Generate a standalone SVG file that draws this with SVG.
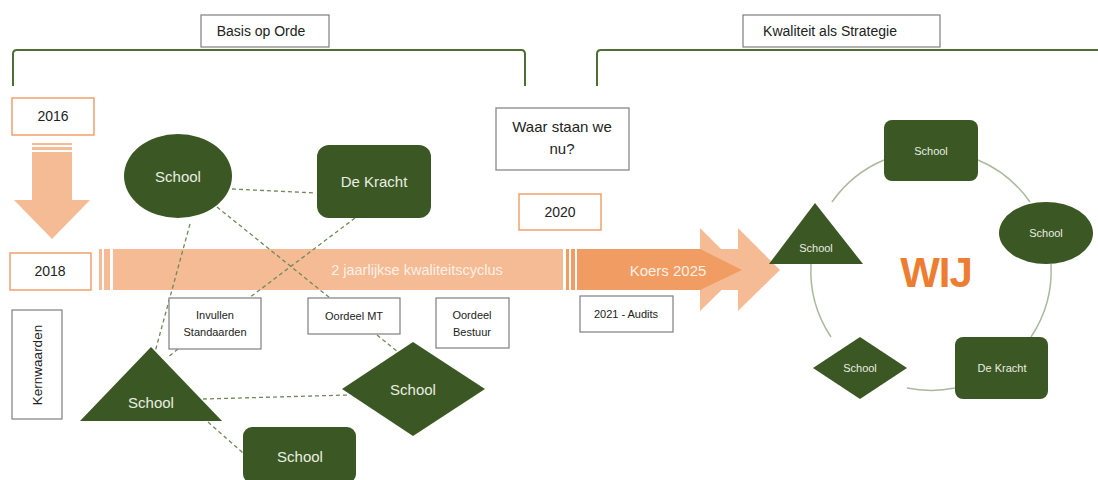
<svg xmlns="http://www.w3.org/2000/svg" width="1098" height="480" viewBox="0 0 1098 480">
<style>
text{font-family:"Liberation Sans",Arial,sans-serif;}
.box{fill:#fff;stroke:#7f7f7f;stroke-width:1.2;}
.obox{fill:#fff;stroke:#f2a775;stroke-width:1.6;}
.g{fill:#3b5724;}
.lbl{fill:#e9eee2;text-anchor:middle;}
.dk{fill:#222;text-anchor:middle;}
.dash{stroke:#6f8a5a;stroke-width:1.3;stroke-dasharray:4 3;fill:none;}
.br{stroke:#4f6d35;stroke-width:2;fill:none;}
.lo{fill:#f4bb95;}
.do{fill:#f09c62;}
.arc{fill:none;stroke:#aab99c;stroke-width:1.5;}
</style>
<rect width="1098" height="480" fill="#fff"/>

<!-- brackets -->
<g id="brackets">
<path class="br" d="M13 86 V54 Q13 50 17 50 H521 Q525 50 525 54 V86"/>
<path class="br" d="M597 86 V54 Q597 50 601 50 H1098"/>
</g>
<g id="basis"><rect class="box" x="201" y="15" width="128" height="32"/><text class="dk" x="261" y="36" font-size="14">Basis op Orde</text></g>
<g id="kwaliteit"><rect class="box" x="743" y="15" width="197" height="32"/><text class="dk" x="830" y="36" font-size="14">Kwaliteit als Strategie</text></g>

<!-- timeline -->
<g id="y2016"><rect class="obox" x="12" y="98" width="82" height="37"/><text class="dk" x="53" y="121" font-size="14">2016</text></g>
<g id="downarrow">
<rect class="lo" x="32" y="143" width="40" height="2"/>
<rect class="lo" x="32" y="147" width="40" height="3"/>
<polygon class="lo" points="32,152 72,152 72,200 90,200 52,239 14,200 32,200"/>
</g>
<g id="y2018"><rect class="obox" x="10" y="253" width="81" height="37"/><text class="dk" x="50" y="276" font-size="14">2018</text></g>

<g id="cycle-arrow">
<rect class="lo" x="99" y="249" width="3" height="41"/>
<rect class="lo" x="104" y="249" width="6" height="41"/>
<rect class="lo" x="113" y="249" width="450" height="41"/>
<rect class="lo" x="563" y="249" width="175" height="41"/>
<polygon class="lo" points="738,228 780,270 738,311"/>
<polygon class="lo" points="700,228 742,270 700,311"/>
<text x="417" y="275" font-size="14.5" fill="#fdf0e6" text-anchor="middle">2 jaarlijkse kwaliteitscyclus</text>
</g>
<g id="koers-arrow">
<rect x="563" y="249" width="14" height="41" fill="#fff"/>
<rect class="do" x="566" y="249" width="3" height="41"/>
<rect class="do" x="571" y="249" width="4" height="41"/>
<polygon class="do" points="577,249 700,249 742,270 700,290 577,290"/>
<text x="668" y="276" font-size="15" fill="#fdf0e6" text-anchor="middle">Koers 2025</text>
</g>

<g id="waar"><rect class="box" x="496" y="108" width="133" height="62"/><text class="dk" x="562" y="132" font-size="15">Waar staan we</text><text class="dk" x="562" y="154" font-size="15">nu?</text></g>
<g id="y2020"><rect class="obox" x="519" y="194" width="82" height="36"/><text class="dk" x="560" y="217" font-size="14">2020</text></g>
<g id="audits"><rect class="box" x="580" y="296" width="93" height="36"/><text class="dk" x="626" y="318" font-size="11">2021 - Audits</text></g>

<g id="kernwaarden"><rect class="box" x="12" y="310" width="50" height="109"/><text class="dk" transform="translate(42 365) rotate(-90)" font-size="13.5">Kernwaarden</text></g>

<!-- connectors -->
<g id="connectors">
<line class="dash" x1="232" y1="189" x2="316" y2="193"/>
<line class="dash" x1="190" y1="224" x2="155" y2="352"/>
<line class="dash" x1="217" y1="207" x2="330" y2="298"/>
<line class="dash" x1="355" y1="218" x2="249" y2="298"/>
<line class="dash" x1="178" y1="349" x2="167" y2="358"/>
<line class="dash" x1="203" y1="399" x2="348" y2="395"/>
<line class="dash" x1="208" y1="422" x2="243" y2="453"/>
<line class="dash" x1="377" y1="335" x2="398" y2="352"/>
<path class="arc" d="M832 202 A120 120 0 0 1 884 160"/>
<path class="arc" d="M978 160 A120 120 0 0 1 1030 202"/>
<path class="arc" d="M1051 264 A120 120 0 0 1 1031 337"/>
<path class="arc" d="M955 388 A120 120 0 0 1 907 388"/>
<path class="arc" d="M831 337 A120 120 0 0 1 811 264"/>
</g>

<!-- left nodes -->
<g id="school-ellipse"><ellipse class="g" cx="178" cy="176" rx="54" ry="42"/><text class="lbl" x="178" y="182" font-size="15">School</text></g>
<g id="dekracht-left"><rect class="g" x="317" y="145" width="114" height="73" rx="12"/><text class="lbl" x="374" y="187" font-size="15">De Kracht</text></g>
<g id="invullen"><rect class="box" x="169" y="298" width="92" height="51"/><text class="dk" x="215" y="319" font-size="11">Invullen</text><text class="dk" x="215" y="336" font-size="11">Standaarden</text></g>
<g id="oordeel-mt"><rect class="box" x="308" y="298" width="92" height="36"/><text class="dk" x="354" y="320" font-size="11">Oordeel MT</text></g>
<g id="oordeel-bestuur"><rect class="box" x="436" y="298" width="73" height="50"/><text class="dk" x="472" y="319" font-size="11">Oordeel</text><text class="dk" x="472" y="336" font-size="11">Bestuur</text></g>
<g id="school-triangle"><polygon class="g" points="151,347 222,421 80,421"/><text class="lbl" x="151" y="408" font-size="15">School</text></g>
<g id="school-diamond"><polygon class="g" points="342,389 413,342 485,389 413,436"/><text class="lbl" x="413" y="395" font-size="15">School</text></g>
<g id="school-rect"><rect class="g" x="243" y="427" width="113" height="56" rx="9"/><text class="lbl" x="300" y="462" font-size="15">School</text></g>

<!-- right cycle -->
<g id="wij"><text x="936" y="287" font-size="42" font-weight="bold" fill="#ed7d31" text-anchor="middle" letter-spacing="-1">WIJ</text></g>
<g id="r-school-top"><rect class="g" x="884" y="120" width="94" height="61" rx="8"/><text class="lbl" x="931" y="155" font-size="11">School</text></g>
<g id="r-school-ellipse"><ellipse class="g" cx="1046" cy="233" rx="47" ry="31"/><text class="lbl" x="1046" y="237" font-size="11">School</text></g>
<g id="r-school-triangle"><polygon class="g" points="815,203 863,264 769,264"/><text class="lbl" x="816" y="252" font-size="11">School</text></g>
<g id="r-school-diamond"><polygon class="g" points="813,368 860,337 907,368 860,399"/><text class="lbl" x="860" y="372" font-size="11">School</text></g>
<g id="r-dekracht"><rect class="g" x="955" y="337" width="93" height="62" rx="8"/><text class="lbl" x="1002" y="372" font-size="11">De Kracht</text></g>
</svg>
